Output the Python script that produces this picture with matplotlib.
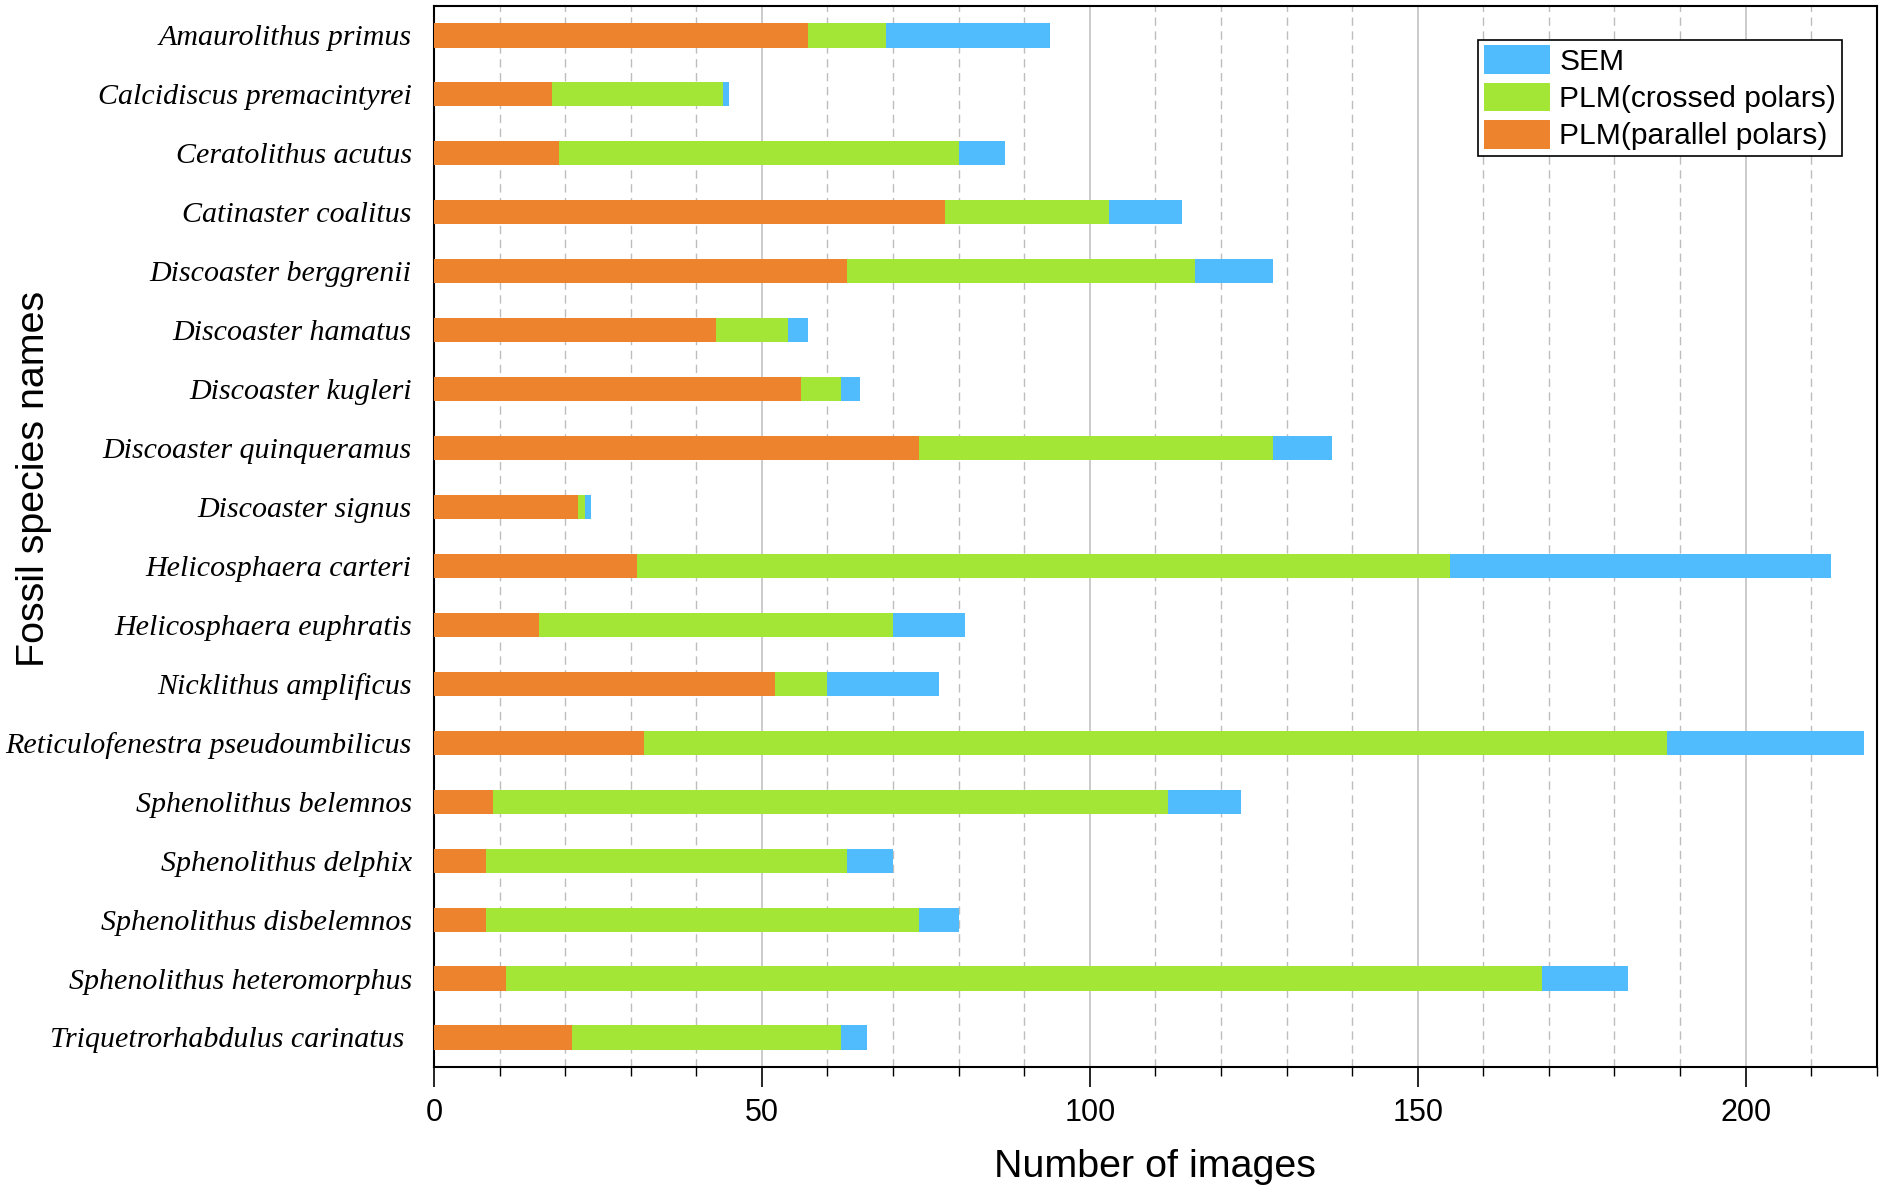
import matplotlib.pyplot as plt
from matplotlib.ticker import MultipleLocator
import numpy as np

# %% data
species = ['Amaurolithus primus', 'Calcidiscus premacintyrei', 'Ceratolithus acutus',
           'Catinaster coalitus', 'Discoaster berggrenii', 'Discoaster hamatus',
           'Discoaster kugleri', 'Discoaster quinqueramus', 'Discoaster signus',
           'Helicosphaera carteri', 'Helicosphaera euphratis', 'Nicklithus amplificus',
           'Reticulofenestra pseudoumbilicus', 'Sphenolithus belemnos',
           'Sphenolithus delphix', 'Sphenolithus disbelemnos',
           'Sphenolithus heteromorphus', 'Triquetrorhabdulus carinatus ']
parallel = [57, 18, 19, 78, 63, 43, 56, 74, 22, 31, 16, 52, 32, 9, 8, 8, 11, 21]
crossed = [12, 26, 61, 25, 53, 11, 6, 54, 1, 124, 54, 8, 156, 103, 55, 66, 158, 41]
sem = [25, 1, 7, 11, 12, 3, 3, 9, 1, 58, 11, 17, 30, 11, 7, 6, 13, 4]

c_par = '#ED832C'
c_cro = '#A3E635'
c_sem = '#50BBFD'

# %% plot
fig = plt.figure(figsize=(18.9, 11.94), dpi=100)
ax = fig.add_axes([0.2296, 0.1064, 0.7634, 0.8886])

y = np.arange(len(species))
h = 0.41
parallel = np.array(parallel)
crossed = np.array(crossed)
sem = np.array(sem)

b1 = ax.barh(y, parallel, h, color=c_par, label='PLM(parallel polars)', zorder=3)
b2 = ax.barh(y, crossed, h, left=parallel, color=c_cro, label='PLM(crossed polars)', zorder=3)
b3 = ax.barh(y, sem, h, left=parallel + crossed, color=c_sem, label='SEM', zorder=3)

ax.set_xlim(0, 220)
ax.set_ylim(len(species) - 0.5, -0.5)

ax.xaxis.set_major_locator(MultipleLocator(50))
ax.xaxis.set_minor_locator(MultipleLocator(10))
ax.grid(which='major', axis='x', color='#BDBDBD', linestyle='-', linewidth=1.1, zorder=0)
ax.grid(which='minor', axis='x', color='#BDBDBD', linestyle=(0, (6, 4)), linewidth=1.0, zorder=0)

ax.set_yticks(y, species)
for lab in ax.get_yticklabels():
    lab.set_fontfamily('Liberation Serif')
    lab.set_fontstyle('italic')
    lab.set_fontsize(21.6)
ax.tick_params(axis='y', length=0, pad=16)
ax.tick_params(axis='x', which='major', length=14.4, width=1.2, pad=8, labelsize=22)
ax.tick_params(axis='x', which='minor', length=6.5, width=1.0)
for lab in ax.get_xticklabels():
    lab.set_fontfamily('Liberation Sans')

for s in ax.spines.values():
    s.set_linewidth(1.5)
    s.set_color('black')

ax.set_xlabel('Number of images', fontfamily='Liberation Sans', fontsize=28.4)
ax.xaxis.set_label_coords(0.5, -0.077)
ax.set_ylabel('Fossil species names', fontfamily='Liberation Sans', fontsize=28.4)
ax.yaxis.set_label_coords(-0.265, 0.554)

handles = [b3, b2, b1]
leg = ax.legend(handles, [hh.get_label() for hh in handles], loc='upper right',
                bbox_to_anchor=(0.9757, 0.968), prop={'family': 'Liberation Sans', 'size': 21.6},
                frameon=True, fancybox=False, edgecolor='black', framealpha=1,
                handlelength=2.2, handleheight=1.1, labelspacing=0.22,
                borderpad=0.18, handletextpad=0.33, borderaxespad=0)
leg.get_frame().set_linewidth(1.2)

fig.savefig('out.png', dpi=100)
plt.close()
